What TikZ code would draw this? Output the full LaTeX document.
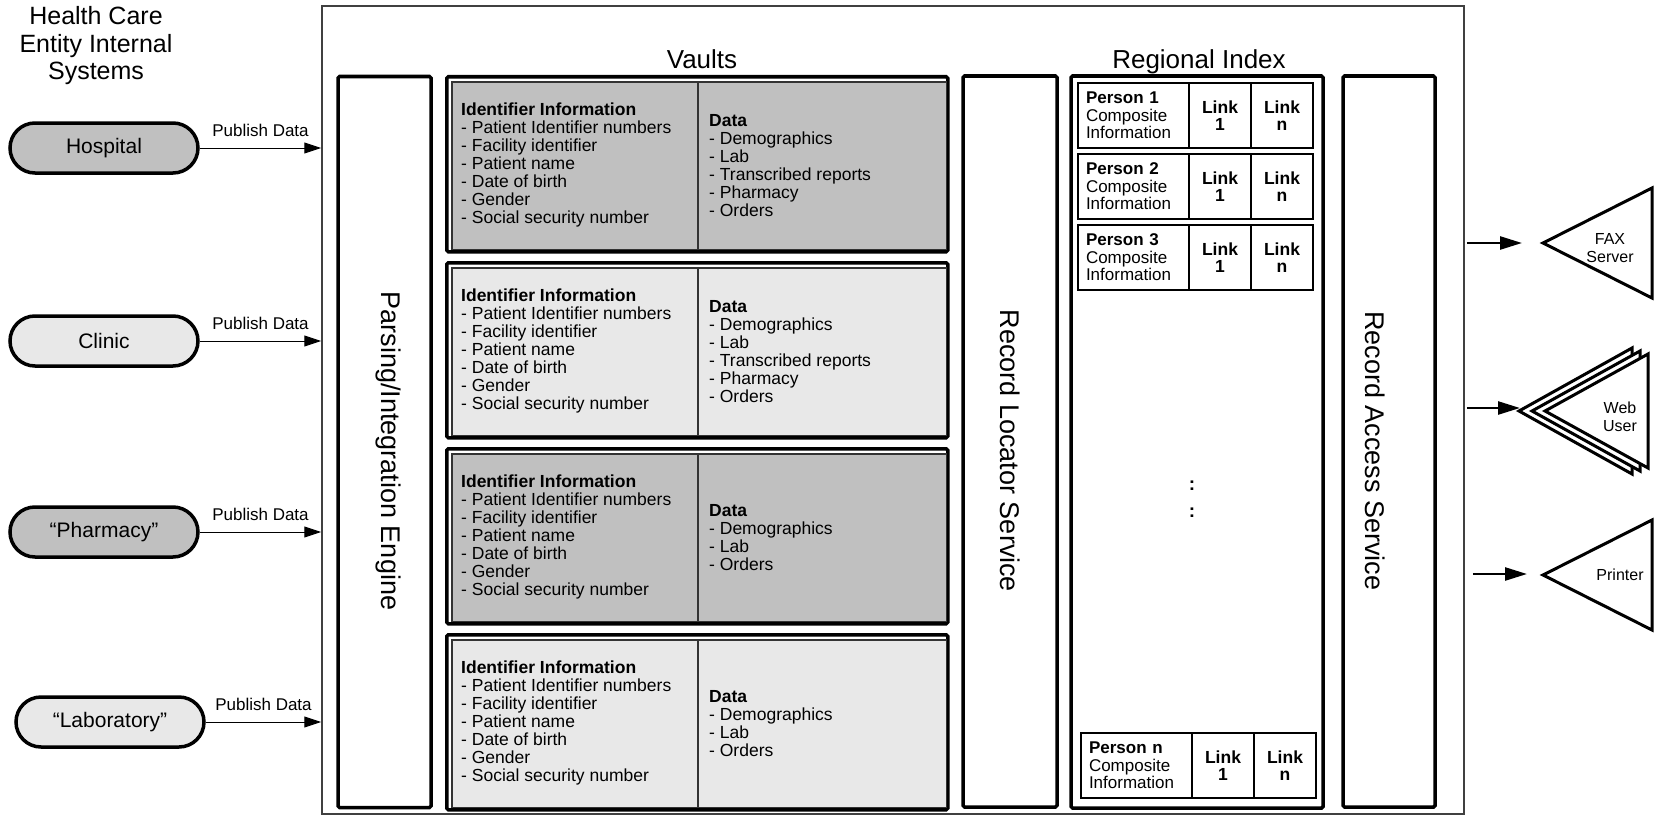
\documentclass[tikz,border=0pt]{standalone}
\usepackage{fontspec}
\setmainfont{Liberation Sans}
\usetikzlibrary{arrows.meta}
\definecolor{darkfill}{HTML}{C0C0C0}
\definecolor{lightfill}{HTML}{E8E8E8}
\newcommand\idlist{\textbf{Identifier Information}\\- Patient Identifier numbers\\- Facility identifier\\- Patient name\\- Date of birth\\- Gender\\- Social security number}
\newcommand\datalong{\textbf{Data}\\- Demographics\\- Lab\\- Transcribed reports\\- Pharmacy\\- Orders}
\newcommand\datashort{\textbf{Data}\\- Demographics\\- Lab\\- Orders}

\begin{document}
\begin{tikzpicture}[x=1pt,y=-1pt,
  heavy/.style={draw,line width=3.5pt,rounded corners=1.5pt,inner sep=0pt},
  sysbox/.style={draw=black!75,line width=1.5pt,inner sep=0pt},
  pill/.style={draw,line width=3.5pt,rounded corners=25pt,minimum width=188pt,
    minimum height=50pt,font=\fontsize{21}{24}\selectfont},
  pub/.style={-{Triangle[length=17pt,width=11pt]},line width=1pt},
  pubtext/.style={above=9pt,inner sep=2pt,font=\fontsize{17}{18}\selectfont},
  outarrow/.style={-{Triangle[length=22pt,width=13pt]},line width=2.5pt},
  rotlabel/.style={rotate=-90,font=\fontsize{27}{30}\selectfont},
  title/.style={anchor=base,font=\fontsize{26}{30}\selectfont},
  vaulttext/.style={anchor=west,align=left,inner sep=0pt,font=\fontsize{17.5}{18}\selectfont},
  cell/.style={draw,line width=2pt,minimum height=65pt,inner sep=0pt,outer sep=0pt,
    anchor=north west,font=\fontsize{17}{17.5}\selectfont},
  personcell/.style={cell,minimum width=111pt,text width=95pt,align=left},
  linkcell/.style={cell,minimum width=62pt,align=center,font=\fontsize{17.5}{17.5}\selectfont\bfseries},
  devtri/.style={draw,fill=white,line width=3pt},
  devtext/.style={align=center,font=\fontsize{16}{18}\selectfont}]
  \useasboundingbox (0,0) rectangle (1654,816);

  \node[align=center,font=\fontsize{25}{27.5}\selectfont] (systitle) at (96,46)
    {Health Care\\Entity Internal\\Systems};
  \node[sysbox,minimum width=1142pt,minimum height=808pt] (sys) at (893,410) {};

  \node[pill,fill=darkfill] (hosp) at (104,148) {Hospital};
  \node[pill,fill=lightfill] (clinic) at (104,341) {Clinic};
  \node[pill,fill=darkfill] (pharm) at (104,532) {“Pharmacy”};
  \node[pill,fill=lightfill] (lab) at (110,722) {“Laboratory”};
  \foreach \s in {hosp,clinic,pharm,lab}
    \draw[pub] (\s) -- (\s -| sys.west) node[pubtext,midway] {Publish Data};

  \node[heavy,minimum width=93pt,minimum height=731pt] (engine) at (384.5,442) {};
  \node[rotlabel] (enginetxt) at (388,451) {Parsing/Integration Engine};
  \node[heavy,minimum width=94pt,minimum height=731pt] (locator) at (1010,441.5) {};
  \node[rotlabel] (locatortxt) at (1010,451) {Record Locator Service};
  \node[heavy,minimum width=252pt,minimum height=732pt] (index) at (1197,442) {};
  \node[heavy,minimum width=92pt,minimum height=731pt] (access) at (1389,441.5) {};
  \node[rotlabel] (accesstxt) at (1375,451) {Record Access Service};

  \node[title] (vaultstitle) at (702,68) {Vaults};
  \node[title] (indextitle) at (1199,68) {Regional Index};

  \foreach \n/\y/\col/\data in {1/75/darkfill/\datalong,2/261/lightfill/\datalong,
      3/447/darkfill/\datashort,4/633/lightfill/\datashort}{
    \node[heavy,fill=white,minimum width=501pt,minimum height=175pt,anchor=north west]
      (vault\n) at (445,\y) {};
    \draw[fill=\col,draw=black!80,line width=1.2pt] ([shift={(7,7)}]vault\n.north west)
      rectangle ([shift={(-3,-4)}]vault\n.south east);
    \draw[black!80,line width=1.2pt] ([shift={(253,7)}]vault\n.north west)
      -- ([shift={(253,-4)}]vault\n.south west);
    \node[vaulttext] (id\n) at ([shift={(16,1)}]vault\n.west) {\idlist};
    \node[vaulttext] (data\n) at ([shift={(264,1)}]vault\n.west) {\data};
  }

  \foreach \n/\y in {1/83,2/154,3/225}{
    \node[personcell] (person\n) at (1078,\y) {\textbf{Person \n}\\Composite\\Information};
    \node[linkcell] (linka\n) at (person\n.north east) {Link\\1};
    \node[linkcell] (linkb\n) at (linka\n.north east) {Link\\n};
  }
  \node[personcell] (personn) at (1081,733) {\textbf{Person n}\\Composite\\Information};
  \node[linkcell] (linkan) at (personn.north east) {Link\\1};
  \node[linkcell] (linkbn) at (linkan.north east) {Link\\n};
  \node[align=center,font=\fontsize{19}{27.5}\selectfont\bfseries] (gap) at (1192,499) {:\\:};

  \draw[devtri] (1543,243) -- ++(109,-55) -- ++(0,110) -- cycle;
  \foreach \k in {0,1,2}
    \draw[devtri] (1519+13*\k,411) -- ++(113-5*\k,-63+3*\k) -- ++(0,126-6*\k) -- cycle;
  \draw[devtri] (1543,575) -- ++(109,-55) -- ++(0,110) -- cycle;
  \node[devtext] (fax) at (1610,248) {FAX\\Server};
  \node[devtext] (web) at (1620,417) {Web\\User};
  \node[devtext] (printer) at (1620,575) {Printer};

  \coordinate (faxin) at (1522,243);
  \coordinate (webin) at (1520,408);
  \coordinate (printin) at (1527,574);
  \draw[outarrow] (sys.east |- faxin) ++(2,0) -- (faxin);
  \draw[outarrow] (sys.east |- webin) ++(2,0) -- (webin);
  \draw[outarrow] (sys.east |- printin) ++(8,0) -- (printin);
\end{tikzpicture}
\end{document}
